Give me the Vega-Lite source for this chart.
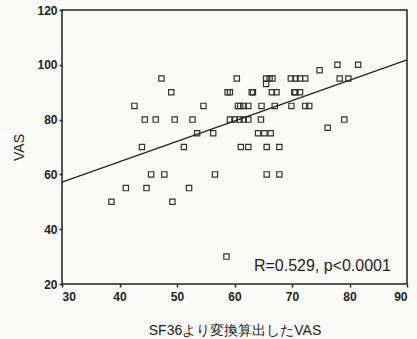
{
  "$schema": "https://vega.github.io/schema/vega-lite/v6.json",
  "width": 345,
  "height": 274,
  "autosize": {"type": "none"},
  "padding": {"left": 62, "top": 10, "right": 10, "bottom": 55},
  "background": "#fbfbf9",
  "config": {
    "view": {"stroke": "#222", "strokeWidth": 1.5},
    "font": "Liberation Sans",
    "axis": {
      "grid": false,
      "domain": false,
      "tickColor": "#222",
      "tickSize": 3,
      "tickWidth": 1.5,
      "labelFont": "Liberation Sans",
      "labelFontSize": 12,
      "labelFontWeight": "bold",
      "labelColor": "#222",
      "titleFont": "Liberation Sans",
      "titleColor": "#222",
      "titleFontWeight": "normal"
    }
  },
  "datasets": {
    "pts": [
      {"x": 47.3, "y": 95}, {"x": 49.0, "y": 90}, {"x": 42.6, "y": 85}, {"x": 54.6, "y": 85},
      {"x": 44.4, "y": 80}, {"x": 46.3, "y": 80}, {"x": 49.6, "y": 80}, {"x": 52.7, "y": 80},
      {"x": 53.5, "y": 75}, {"x": 56.3, "y": 75}, {"x": 43.9, "y": 70}, {"x": 51.2, "y": 70},
      {"x": 58.8, "y": 90}, {"x": 59.2, "y": 90}, {"x": 60.4, "y": 95}, {"x": 60.6, "y": 85},
      {"x": 65.5, "y": 95}, {"x": 66.1, "y": 95}, {"x": 66.6, "y": 95}, {"x": 65.5, "y": 93},
      {"x": 69.8, "y": 95}, {"x": 70.6, "y": 95}, {"x": 71.4, "y": 95}, {"x": 72.3, "y": 95},
      {"x": 74.8, "y": 98}, {"x": 77.9, "y": 100}, {"x": 81.5, "y": 100}, {"x": 78.3, "y": 95}, {"x": 79.8, "y": 95},
      {"x": 63.0, "y": 90}, {"x": 63.2, "y": 90}, {"x": 66.5, "y": 90}, {"x": 67.3, "y": 90},
      {"x": 70.4, "y": 90}, {"x": 71.4, "y": 90}, {"x": 70.6, "y": 90},
      {"x": 61.0, "y": 85}, {"x": 61.6, "y": 85}, {"x": 62.4, "y": 85}, {"x": 64.7, "y": 85},
      {"x": 67.0, "y": 85}, {"x": 69.9, "y": 85}, {"x": 72.3, "y": 85}, {"x": 73.0, "y": 85},
      {"x": 59.2, "y": 80}, {"x": 60.0, "y": 80}, {"x": 60.9, "y": 80}, {"x": 61.6, "y": 80}, {"x": 62.4, "y": 80},
      {"x": 64.6, "y": 80}, {"x": 79.1, "y": 80}, {"x": 76.2, "y": 77},
      {"x": 64.1, "y": 75}, {"x": 65.2, "y": 75}, {"x": 66.3, "y": 75},
      {"x": 61.1, "y": 70}, {"x": 62.4, "y": 70}, {"x": 65.6, "y": 70}, {"x": 67.8, "y": 70},
      {"x": 65.6, "y": 60}, {"x": 67.8, "y": 60},
      {"x": 45.5, "y": 60}, {"x": 47.8, "y": 60}, {"x": 56.6, "y": 60},
      {"x": 41.1, "y": 55}, {"x": 44.7, "y": 55}, {"x": 52.1, "y": 55},
      {"x": 38.6, "y": 50}, {"x": 49.2, "y": 50}, {"x": 58.6, "y": 30}
    ],
    "fit": [{"x": 30, "y": 57.2}, {"x": 90, "y": 101.8}],
    "note": [{"x": 87.2, "y": 24.6, "label": "R=0.529, p<0.0001"}]
  },
  "layer": [
    {
      "data": {"name": "pts"},
      "mark": {"type": "point", "shape": "square", "filled": false, "size": 28, "stroke": "#333", "strokeWidth": 1.2, "opacity": 1},
      "encoding": {
        "x": {"field": "x", "type": "quantitative", "scale": {"domain": [30, 90], "nice": false, "zero": false},
              "axis": {"values": [30, 40, 50, 60, 70, 80, 90], "title": "SF36より変換算出したVAS", "titleFontSize": 14, "titlePadding": 21, "labelPadding": 4}},
        "y": {"field": "y", "type": "quantitative", "scale": {"domain": [20, 120], "nice": false, "zero": false},
              "axis": {"values": [20, 40, 60, 80, 100, 120], "title": "VAS", "titleFontSize": 14, "titlePadding": 10, "labelPadding": 2}}
      }
    },
    {
      "data": {"name": "fit"},
      "mark": {"type": "line", "color": "#222", "strokeWidth": 1.3},
      "encoding": {
        "x": {"field": "x", "type": "quantitative"},
        "y": {"field": "y", "type": "quantitative"}
      }
    },
    {
      "data": {"name": "note"},
      "mark": {"type": "text", "align": "right", "baseline": "alphabetic", "fontSize": 16, "color": "#222", "font": "Liberation Sans"},
      "encoding": {
        "x": {"field": "x", "type": "quantitative"},
        "y": {"field": "y", "type": "quantitative"},
        "text": {"field": "label"}
      }
    }
  ]
}
